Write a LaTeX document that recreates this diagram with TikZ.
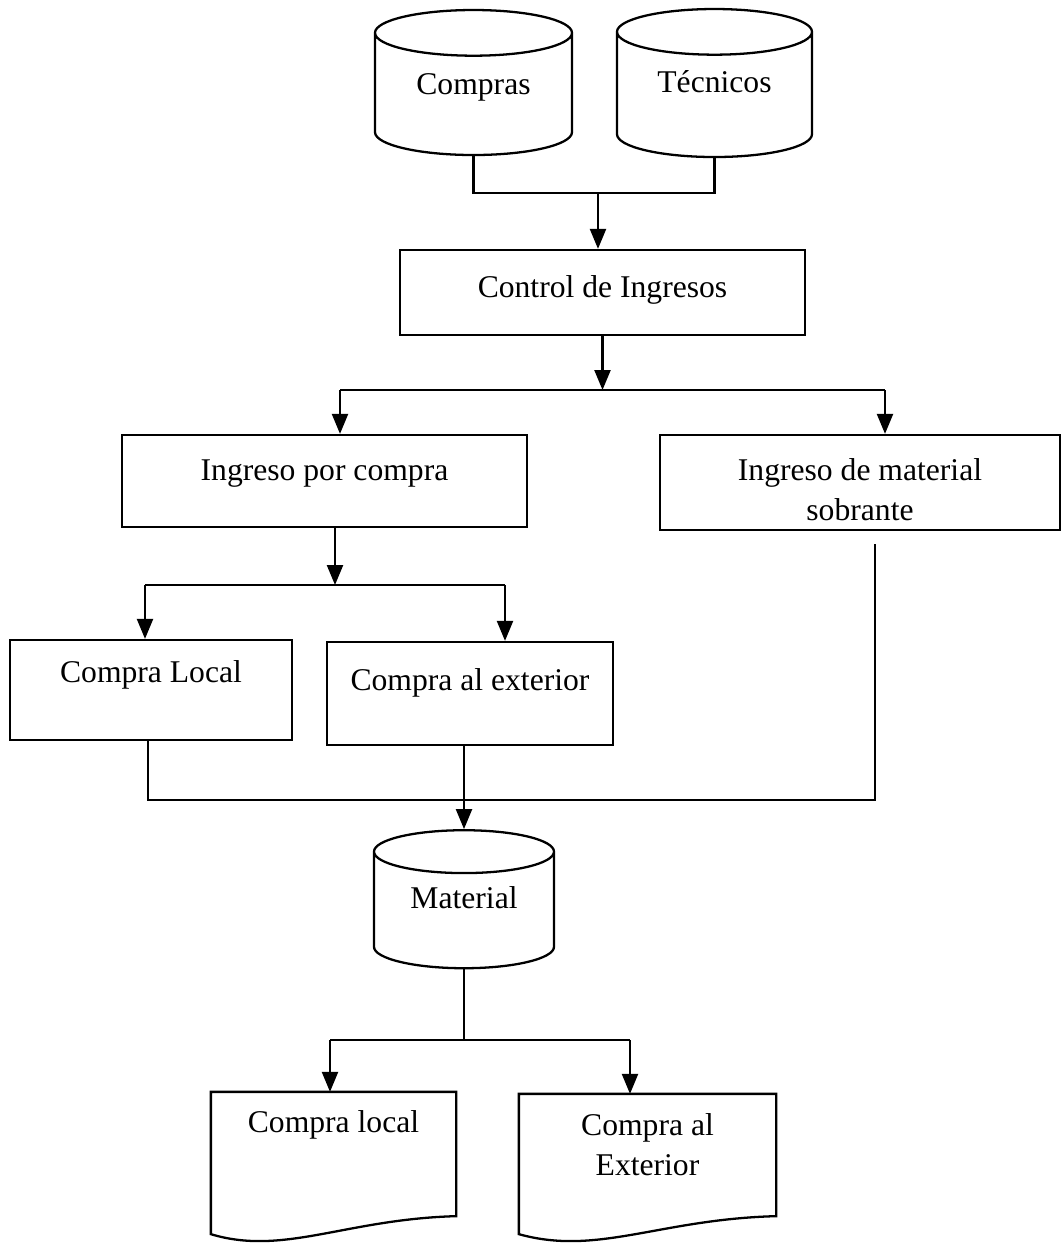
\documentclass[tikz,border=0pt]{standalone}
\usepackage{fontspec}
\setmainfont{Liberation Serif}
\usetikzlibrary{arrows.meta, shapes.geometric, calc}

\begin{document}
\begin{tikzpicture} [align=center, line width=1.3pt, font=\fontsize{18}{22.5}\selectfont,
  >={Triangle[length=0.4cm, width=0.32cm]},
  box/.style={draw, rectangle, inner sep=0pt, text height=0.45cm},
  db/.style={draw, cylinder, shape border rotate=90, aspect=0.4, inner sep=0pt},
  sheet/.style={rectangle, inner sep=0pt}]
\useasboundingbox (0,0) rectangle (21.24,-24.96);

\path (9.47,-1.89) node[db, minimum width=3.94cm, minimum height=2.9cm, text height=0.45cm, text depth=0.45cm] (comp) {Compras}
      (14.29,-1.9) node[db, minimum width=3.9cm, minimum height=2.96cm, text depth=0.55cm] (tec) {Técnicos}
      (12.05,-5.85) node[box, minimum width=8.1cm, minimum height=1.7cm, text depth=0.25cm] (ctrl) {Control de Ingresos}

      (6.49,-9.62) node[box, minimum width=8.1cm, minimum height=1.84cm, text depth=0.47cm] (ipc) {Ingreso por compra}
      (17.2,-9.65) node[box, minimum width=8.0cm, minimum height=1.9cm, text height=1.6cm, text depth=0.1cm] (ims) {Ingreso de material\\sobrante}

      (3.02,-13.8) node[box, minimum width=5.64cm, minimum height=2.0cm, text depth=0.75cm] (cl) {Compra Local}
      (9.4,-13.87) node[box, minimum width=5.72cm, minimum height=2.06cm, text depth=0.57cm] (ce) {Compra al exterior}

      (9.28,-18.21) node[db, minimum width=3.6cm, minimum height=2.76cm, text depth=0.52cm] (mat) {Material}

      (6.67,-23.33) node[sheet, minimum width=4.86cm, minimum height=2.94cm, text height=0.45cm, text depth=1.81cm] (dl) {Compra local}
      (12.95,-23.35) node[sheet, minimum width=5.1cm, minimum height=2.9cm, text depth=0.93cm] (de) {Compra al\\Exterior};

\path (11.96,-3.86) coordinate (j0)
      (6.8,-7.8) coordinate (j1l)
      (17.7,-7.8) coordinate (j1r)
      (6.7,-11.7) coordinate (j2)
      (2.9,-11.7) coordinate (j2l)
      (10.1,-11.7) coordinate (j2r)
      (2.96,-16.0) coordinate (j3l)
      (17.5,-16.0) coordinate (j3r)
      (6.6,-20.8) coordinate (j4l)
      (12.6,-20.8) coordinate (j4r);

% document sheets
\draw (dl.north west) -- (dl.north east) -- ($(dl.south east)+(0,0.5)$)
      .. controls ($(dl.south)+(0.24,0.44)$) and ($(dl.south)+(-1.0,-0.3)$) .. ($(dl.south west)+(0,0.14)$) -- cycle;
\draw (de.north west) -- (de.north east) -- ($(de.south east)+(0,0.5)$)
      .. controls ($(de.south)+(0.24,0.44)$) and ($(de.south)+(-1.0,-0.3)$) .. ($(de.south west)+(0,0.14)$) -- cycle;

\draw (comp.south) -- (comp.south |- j0) -| (tec.south);
\draw[->] (j0) to (j0 |- ctrl.north);

\draw[->] (ctrl.south) to (ctrl.south |- j1l);
\draw (j1l) -- (j1r);
\draw[->] (j1l) to (j1l |- ipc.north);
\draw[->] (j1r) to (j1r |- ims.north);

\draw[->] (j2 |- ipc.south) to (j2);
\draw (j2l) -- (j2r);
\draw[->] (j2l) to (j2l |- cl.north);
\draw[->] (j2r) to (j2r |- ce.north);

\draw (j3l |- cl.south) -- (j3l) -- (j3r) -- ($(j3r |- ims.south)+(0,-0.25)$);
\draw[->] (mat.north |- ce.south) to (mat.north);

\draw (mat.south) -- (mat.south |- j4l);
\draw (j4l) -- (j4r);
\draw[->] (j4l) to (j4l |- dl.north);
\draw[->] (j4r) to (j4r |- de.north);

\end{tikzpicture}
\end{document}
